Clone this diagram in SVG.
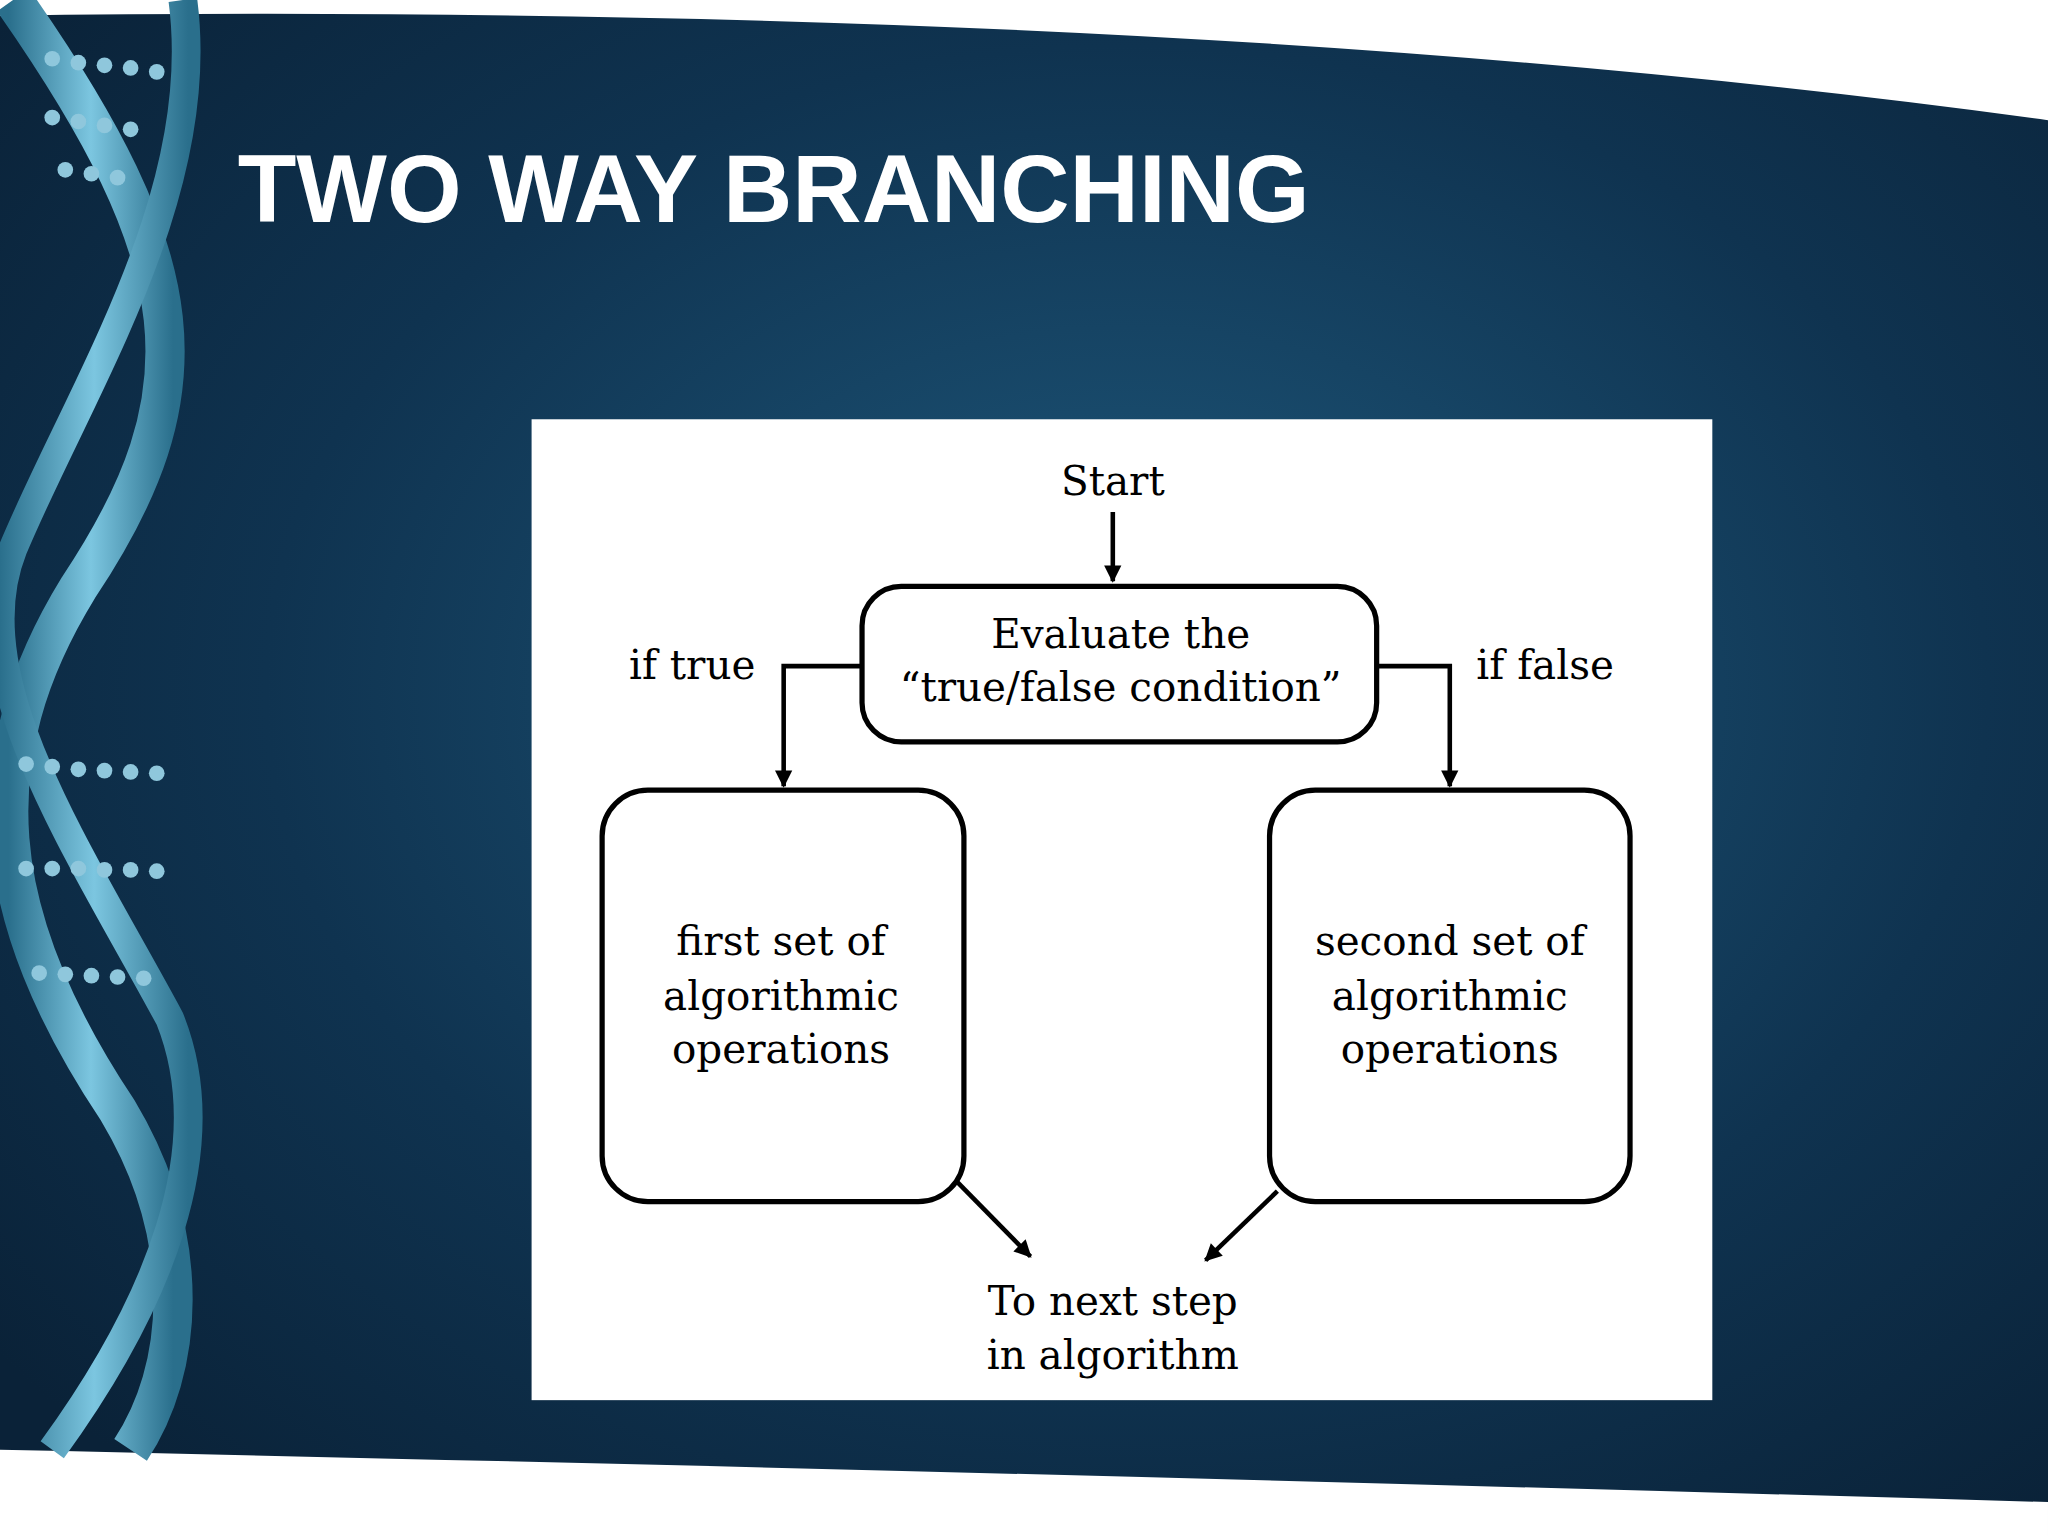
<svg xmlns="http://www.w3.org/2000/svg" width="2048" height="1536" viewBox="0 0 2048 1536">
<defs>
<radialGradient id="bg" cx="0.55" cy="0.45" r="0.7">
<stop offset="0" stop-color="#1f5a7e"/><stop offset="0.6" stop-color="#0f3350"/><stop offset="1" stop-color="#0a2238"/>
</radialGradient>
<linearGradient id="strand" x1="0" x2="1"><stop offset="0" stop-color="#2a6f8c"/><stop offset="0.5" stop-color="#7cc6e0"/><stop offset="1" stop-color="#2a6f8c"/></linearGradient>
<marker id="ah" viewBox="0 0 10 10" refX="9" refY="5" markerWidth="6" markerHeight="6" orient="auto" markerUnits="userSpaceOnUse" style="overflow:visible">
<path d="M0,0 L10,5 L0,10 z" fill="#000" transform="scale(2.2) translate(-5,-2.7)"/>
</marker>
<style>
.t{font-family:"DejaVu Serif","Liberation Serif",serif;font-size:31px;fill:#000;text-anchor:middle}
.box{fill:#fff;stroke:#000;stroke-width:4}
.ln{fill:none;stroke:#000;stroke-width:3.5}
.dot{fill:#8fc7dc}
</style>
</defs>
<g transform="scale(1.30612)">
<rect width="1568" height="1176" fill="url(#bg)"/>
<path d="M0,0 H1568 V92 Q900,0 0,12 Z" fill="#fff"/>
<path d="M0,1110 Q700,1125 1568,1150 V1176 H0 Z" fill="#fff"/>
<g id="dna">
<path d="M10,0 C150,200 160,300 60,450 C-20,580 -10,700 90,850 C150,950 140,1050 100,1110" fill="none" stroke="url(#strand)" stroke-width="30"/>
<path d="M140,0 C160,150 60,300 10,420 C-30,520 60,650 130,780 C170,880 120,1000 40,1110" fill="none" stroke="url(#strand)" stroke-width="22"/>
<g class="dot">
<circle cx="40" cy="45" r="6"/><circle cx="60" cy="48" r="6"/><circle cx="80" cy="50" r="6"/><circle cx="100" cy="52" r="6"/><circle cx="120" cy="55" r="6"/>
<circle cx="40" cy="90" r="6"/><circle cx="60" cy="93" r="6"/><circle cx="80" cy="96" r="6"/><circle cx="100" cy="99" r="6"/>
<circle cx="50" cy="130" r="6"/><circle cx="70" cy="133" r="6"/><circle cx="90" cy="136" r="6"/>
<circle cx="20" cy="585" r="6"/><circle cx="40" cy="587" r="6"/><circle cx="60" cy="589" r="6"/><circle cx="80" cy="590" r="6"/><circle cx="100" cy="591" r="6"/><circle cx="120" cy="592" r="6"/>
<circle cx="20" cy="665" r="6"/><circle cx="40" cy="665" r="6"/><circle cx="60" cy="665" r="6"/><circle cx="80" cy="666" r="6"/><circle cx="100" cy="666" r="6"/><circle cx="120" cy="667" r="6"/>
<circle cx="30" cy="745" r="6"/><circle cx="50" cy="746" r="6"/><circle cx="70" cy="747" r="6"/><circle cx="90" cy="748" r="6"/><circle cx="110" cy="749" r="6"/>
</g>
</g>
<text x="182" y="170" font-family="Liberation Sans,Arial,sans-serif" font-weight="bold" font-size="73.5" fill="#fff">TWO WAY BRANCHING</text>
<rect x="407" y="321" width="904" height="751" fill="#fff"/>
<g id="connectors">
<line class="ln" x1="852" y1="392" x2="852" y2="445" marker-end="url(#ah)"/>
<polyline class="ln" points="660,510 600,510 600,602" marker-end="url(#ah)"/>
<polyline class="ln" points="1054,510 1110,510 1110,602" marker-end="url(#ah)"/>
<line class="ln" x1="733" y1="905" x2="789" y2="962" marker-end="url(#ah)"/>
<line class="ln" x1="978" y1="912" x2="923" y2="965" marker-end="url(#ah)"/>
</g>
<g id="start"><text class="t" x="852" y="379">Start</text></g>
<g id="cond">
<rect class="box" x="660" y="449" width="394" height="119" rx="30"/>
<text class="t" x="858" y="496">Evaluate the</text>
<text class="t" x="858" y="537">“true/false condition”</text>
</g>
<g id="iftrue"><text class="t" x="530" y="520">if true</text></g>
<g id="iffalse"><text class="t" x="1183" y="520">if false</text></g>
<g id="first">
<rect class="box" x="461" y="605" width="277" height="315" rx="35"/>
<text class="t" x="598" y="731">first set of</text>
<text class="t" x="598" y="773">algorithmic</text>
<text class="t" x="598" y="814">operations</text>
</g>
<g id="second">
<rect class="box" x="972" y="605" width="276" height="315" rx="35"/>
<text class="t" x="1110" y="731">second set of</text>
<text class="t" x="1110" y="773">algorithmic</text>
<text class="t" x="1110" y="814">operations</text>
</g>
<g id="next">
<text class="t" x="852" y="1007">To next step</text>
<text class="t" x="852" y="1048">in algorithm</text>
</g>
</g>
</svg>
